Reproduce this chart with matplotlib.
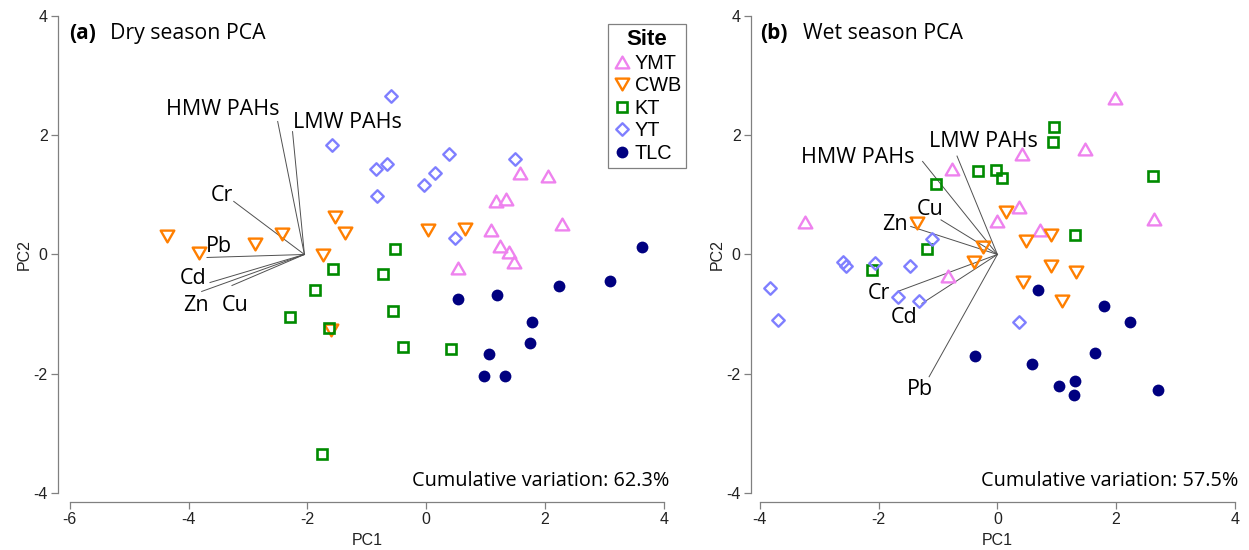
import matplotlib
matplotlib.use('Agg')
from matplotlib import pyplot as plt
from matplotlib.lines import Line2D
from matplotlib.path import Path

# ---- data ----
sites = ['YMT', 'CWB', 'KT', 'YT', 'TLC']

dry_x = {
    'YMT': [1.58, 2.06, 1.18, 1.35, 2.28, 1.10, 1.24, 1.40, 1.48, 0.54],
    'CWB': [-4.36, -3.82, -2.88, -2.43, -1.54, -1.37, -1.73, 0.03, 0.66, -1.60],
    'KT': [-0.52, -1.57, -0.72, -1.88, -2.29, -1.64, -0.55, -0.39, 0.41, -1.75],
    'YT': [-0.59, -1.58, -0.84, -0.66, -0.83, 0.39, 0.15, -0.03, 1.49, 0.48],
    'TLC': [3.63, 0.54, 1.19, 2.23, 3.10, 1.79, 1.75, 1.06, 0.97, 1.32],
}
dry_y = {
    'YMT': [1.36, 1.32, 0.90, 0.93, 0.51, 0.41, 0.14, 0.04, -0.13, -0.23],
    'CWB': [0.31, 0.02, 0.18, 0.34, 0.63, 0.36, -0.01, 0.41, 0.43, -1.27],
    'KT': [0.10, -0.24, -0.33, -0.60, -1.04, -1.24, -0.94, -1.55, -1.58, -3.35],
    'YT': [2.65, 1.84, 1.43, 1.52, 0.98, 1.68, 1.36, 1.17, 1.60, 0.27],
    'TLC': [0.12, -0.75, -0.68, -0.53, -0.44, -1.13, -1.49, -1.67, -2.04, -2.04],
}
wet_x = {
    'YMT': [-3.24, -0.77, 1.98, 1.47, 0.41, 0.37, -0.01, 2.64, 0.71, -0.84],
    'CWB': [-1.36, -0.24, -0.39, 0.15, 0.90, 0.48, 0.90, 1.33, 0.43, 1.08],
    'KT': [-1.04, -0.32, -0.02, 0.08, -1.19, -2.11, 0.95, 0.94, 2.62, 1.30],
    'YT': [-1.10, -2.60, -2.55, -2.07, -1.47, -3.83, -3.70, -1.68, -1.32, 0.37],
    'TLC': [-0.38, 0.69, 1.79, 2.24, 0.59, 1.64, 1.03, 1.31, 1.29, 2.71],
}
wet_y = {
    'YMT': [0.55, 1.43, 2.62, 1.77, 1.69, 0.79, 0.56, 0.60, 0.41, -0.36],
    'CWB': [0.52, 0.12, -0.12, 0.72, 0.33, 0.23, -0.20, -0.29, -0.46, -0.78],
    'KT': [1.19, 1.40, 1.41, 1.29, 0.09, -0.26, 2.13, 1.88, 1.31, 0.33],
    'YT': [0.26, -0.12, -0.20, -0.14, -0.19, -0.57, -1.10, -0.72, -0.78, -1.13],
    'TLC': [-1.70, -0.60, -0.86, -1.13, -1.83, -1.65, -2.21, -2.12, -2.36, -2.27],
}

variables = ['HMW PAHs', 'LMW PAHs', 'Cr', 'Pb', 'Cd', 'Zn', 'Cu']
dry_origin = (-2.05, 0.0)
dry_load_x = [-2.50, -2.25, -3.24, -3.69, -3.64, -3.78, -3.27]
dry_load_y = [2.23, 2.06, 0.89, -0.05, -0.47, -0.62, -0.52]
dry_lab_x = [-3.43, -1.32, -3.44, -3.49, -3.93, -3.88, -3.21]
dry_lab_y = [2.34, 2.12, 0.90, 0.04, -0.49, -0.95, -0.95]

wet_origin = (0.0, 0.0)
wet_load_x = [-1.26, -0.68, -1.68, -1.15, -1.27, -1.46, -0.95]
wet_load_y = [1.56, 1.65, -0.62, -2.05, -0.82, 0.47, 0.58]
wet_lab_x = [-2.36, -0.24, -1.99, -1.31, -1.57, -1.73, -1.14]
wet_lab_y = [1.53, 1.81, -0.75, -2.36, -1.15, 0.41, 0.66]

dry_cumvar = 62.3
wet_cumvar = 57.5

# ---- styling ----
tri_up = Path([(-1, -0.866), (1, -0.866), (0, 0.866), (-1, -0.866)], closed=True)
tri_dn = Path([(-1, 0.866), (1, 0.866), (0, -0.866), (-1, 0.866)], closed=True)
diamond = Path([(0, 1), (1, 0), (0, -1), (-1, 0), (0, 1)], closed=True)
style = {
    'YMT': dict(marker=tri_up, color='#EE82EE', ms=9.8, mfc='none', mew=1.7),
    'CWB': dict(marker=tri_dn, color='#FF7F00', ms=9.8, mfc='none', mew=1.7),
    'KT': dict(marker='s', color='#008B00', ms=6.6, mfc='none', mew=1.9),
    'YT': dict(marker=diamond, color='#7F7FFF', ms=9.0, mfc='none', mew=1.7),
    'TLC': dict(marker='o', color='#000080', ms=8.5, mew=0),
}

SANS = ['Liberation Sans', 'DejaVu Sans']
HUM = ['Open Sans', 'DejaVu Sans']
plt.rcParams['font.family'] = SANS
plt.rcParams['axes.unicode_minus'] = False
GREY = '#808080'

fig = plt.figure(figsize=(12.49, 5.5), dpi=100)
ax1 = fig.add_axes([0.0464, 0.0873, 0.4945, 0.90])
ax2 = fig.add_axes([0.6013, 0.0873, 0.3945, 0.90])


def panel(ax, xs, ys, origin, lx, ly, tx, ty, xlim, xticks, tag, title, title_x, cumvar):
    for i in range(len(variables)):
        ax.plot([origin[0], lx[i]], [origin[1], ly[i]], color='#505050', lw=0.7, zorder=1)
        ax.text(tx[i], ty[i], variables[i], ha='center', va='baseline',
                fontsize=15.5, family=HUM, color='black', zorder=3)
    for s in sites:
        ax.plot(xs[s], ys[s], ls='none', zorder=2, **style[s])
    ax.set_xlim(*xlim)
    ax.set_ylim(-4.15, 4.15)
    ax.set_xticks(xticks)
    ax.set_yticks([-4, -2, 0, 2, 4])
    ax.spines['top'].set_visible(False)
    ax.spines['right'].set_visible(False)
    for sp in ('left', 'bottom'):
        ax.spines[sp].set_color(GREY)
        ax.spines[sp].set_linewidth(0.9)
    ax.spines['bottom'].set_bounds(xticks[0], xticks[-1])
    ax.spines['left'].set_bounds(-4, 4)
    ax.tick_params(length=5, width=0.9, color=GREY, labelsize=11.5, pad=2.5,
                   labelcolor='#222222')
    ax.set_xlabel('PC1', fontsize=11.5, color='#222222', labelpad=4)
    ax.set_ylabel('PC2', fontsize=11.5, color='#222222', labelpad=1)
    ax.text(0.018, 0.935, tag, transform=ax.transAxes, fontsize=15,
            fontweight='bold', family=HUM, va='baseline')
    ax.text(title_x, 0.935, title, transform=ax.transAxes,
            fontsize=15.3, family=HUM, va='baseline')
    ax.text(0.99, 0.032, 'Cumulative variation: %.1f%%' % cumvar, transform=ax.transAxes,
            ha='right', va='baseline', fontsize=14.3, family=HUM)


panel(ax1, dry_x, dry_y, dry_origin, dry_load_x, dry_load_y, dry_lab_x, dry_lab_y,
      (-6.2, 4.2), [-6, -4, -2, 0, 2, 4], '(a)', 'Dry season PCA', 0.085, dry_cumvar)
panel(ax2, wet_x, wet_y, wet_origin, wet_load_x, wet_load_y, wet_lab_x, wet_lab_y,
      (-4.15, 4.15), [-4, -2, 0, 2, 4], '(b)', 'Wet season PCA', 0.105, wet_cumvar)

handles = [Line2D([], [], ls='none', **style[s]) for s in sites]
leg = fig.legend(handles, sites, loc='upper left', bbox_to_anchor=(0.4868, 0.9564),
                 borderaxespad=0, fontsize=14.3, title='Site', fancybox=False,
                 framealpha=1, edgecolor=GREY, handlelength=0.9, handletextpad=0.2,
                 labelspacing=0.18, borderpad=0.25)
leg.get_title().set_fontweight('bold')
leg.get_title().set_fontsize(16)
leg.get_frame().set_linewidth(0.9)

fig.savefig('out.png', dpi=100)
